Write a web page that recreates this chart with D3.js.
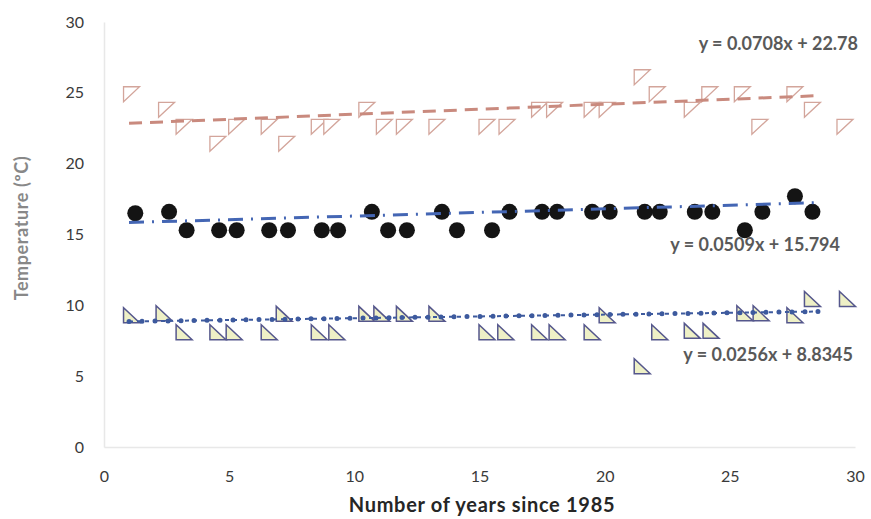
<!DOCTYPE html>
<html>
<head>
<meta charset="utf-8">
<script src="https://cdn.jsdelivr.net/npm/d3@7"></script>
<style>
  body { margin: 0; background: #ffffff; }
  #scatter { width: 871px; height: 519px; }
</style>
</head>
<body>
<div id="scatter"></div>
<script>
// Data
var hotYears = [1.1, 2.5, 3.2, 4.55, 5.3, 6.6, 7.3, 8.6, 9.1, 10.5, 11.2, 12.0, 13.3, 15.3, 16.1, 17.4, 18.0, 19.5, 20.1, 21.5, 22.1, 23.5, 24.2, 25.5, 26.2, 27.6, 28.3, 29.6];
var hotTemps = [24.9, 23.8, 22.6, 21.4, 22.6, 22.6, 21.4, 22.6, 22.6, 23.8, 22.6, 22.6, 22.6, 22.6, 22.6, 23.8, 23.8, 23.8, 23.8, 26.1, 24.9, 23.8, 24.9, 24.9, 22.6, 24.9, 23.8, 22.6];

var meanYears = [1.25, 2.6, 3.3, 4.6, 5.3, 6.6, 7.35, 8.7, 9.35, 10.7, 11.35, 12.1, 13.5, 14.1, 15.5, 16.2, 17.5, 18.1, 19.5, 20.2, 21.6, 22.2, 23.6, 24.3, 25.6, 26.3, 27.6, 28.3];
var meanTemps = [16.5, 16.6, 15.3, 15.3, 15.3, 15.3, 15.3, 15.3, 15.3, 16.6, 15.3, 15.3, 16.6, 15.3, 15.3, 16.6, 16.6, 16.6, 16.6, 16.6, 16.6, 16.6, 16.6, 16.6, 15.3, 16.6, 17.7, 16.6];

var coldYears = [1.1, 2.4, 3.2, 4.55, 5.2, 6.6, 7.2, 8.6, 9.3, 10.5, 11.1, 12.0, 13.3, 15.3, 16.05, 17.4, 18.1, 19.5, 20.1, 21.5, 22.2, 23.5, 24.25, 25.6, 26.25, 27.6, 28.3, 29.7];
var coldTemps = [9.3, 9.45, 8.1, 8.1, 8.1, 8.1, 9.4, 8.1, 8.1, 9.4, 9.4, 9.4, 9.4, 8.1, 8.1, 8.1, 8.1, 8.1, 9.3, 5.7, 8.1, 8.2, 8.2, 9.45, 9.45, 9.3, 10.45, 10.45];

// trendline equations shown on the chart: [slope, intercept]
var hotFit = [0.0708, 22.78];
var meanFit = [0.0509, 15.794];
var coldFit = [0.0256, 8.8345];
var fitRange = [1, 28.6];

var fitLabels = ['y = 0.0708x + 22.78', 'y = 0.0509x + 15.794', 'y = 0.0256x + 8.8345'];
var xTicks = [0, 5, 10, 15, 20, 25, 30];
var yTicks = [0, 5, 10, 15, 20, 25, 30];

var svgWidth = 871;
var svgHeight = 519;

var margin = { top: 22, right: 16, bottom: 72, left: 104 };
var width = svgWidth - margin.left - margin.right;
var height = svgHeight - margin.top - margin.bottom;

var svg = d3.select('#scatter')
    .append('svg')
    .attr('width', svgWidth)
    .attr('height', svgHeight)
    .style('font-family', 'Lato, "Open Sans", sans-serif');

var chartGroup = svg.append('g')
    .attr('transform', `translate(${margin.left}, ${margin.top})`);

var x = d3.scaleLinear().domain([0, 30]).range([0, 751]);
var y = d3.scaleLinear().domain([0, 30]).range([height, 0]);

// axes: faint lines, no tick marks
var bottomAxis = d3.axisBottom(x).tickValues(xTicks).tickSize(0).tickPadding(24);
var leftAxis = d3.axisLeft(y).tickValues(yTicks).tickSize(0).tickPadding(20);

var gx = chartGroup.append('g')
    .attr('transform', `translate(0, ${height})`)
    .call(bottomAxis);
var gy = chartGroup.append('g').call(leftAxis);

[gx, gy].forEach(function (g) {
    g.select('.domain').attr('stroke', '#e8e8e8').attr('stroke-width', 1.5);
    g.selectAll('text')
        .attr('fill', '#3a3a3a')
        .style('font-size', '16px')
        .style('font-family', 'Lato, sans-serif');
});

function toPoints(xs, ys) {
    return xs.map(function (d, i) { return { x: d, y: ys[i] }; });
}

// upper series: open triangles, corner at top left
var tw = 16, th = 15;
chartGroup.append('g').selectAll('path')
    .data(toPoints(hotYears, hotTemps))
    .enter()
    .append('path')
    .attr('transform', d => `translate(${x(d.x)}, ${y(d.y)})`)
    .attr('d', `M${-tw / 2},${-th / 2}L${tw / 2},${-th / 2}L${-tw / 2},${th / 2}Z`)
    .attr('fill', '#ffffff')
    .attr('stroke', '#d3a59b')
    .attr('stroke-width', 1.3);

// middle series: black dots
chartGroup.append('g').selectAll('circle')
    .data(toPoints(meanYears, meanTemps))
    .enter()
    .append('circle')
    .attr('cx', d => x(d.x))
    .attr('cy', d => y(d.y))
    .attr('r', 8)
    .attr('fill', '#141414');

// lower series: filled triangles, corner at bottom left
chartGroup.append('g').selectAll('path')
    .data(toPoints(coldYears, coldTemps))
    .enter()
    .append('path')
    .attr('transform', d => `translate(${x(d.x)}, ${y(d.y)})`)
    .attr('d', `M${-tw / 2},${-th / 2}L${-tw / 2},${th / 2}L${tw / 2},${th / 2}Z`)
    .attr('fill', '#eef0c6')
    .attr('stroke', '#55578c')
    .attr('stroke-width', 1.5);

// trendlines
var fitLine = d3.line().x(d => x(d[0])).y(d => y(d[1]));
function fitPoints(fit) {
    return fitRange.map(function (v) { return [v, fit[0] * v + fit[1]]; });
}

chartGroup.append('path')
    .datum(fitPoints(hotFit))
    .attr('d', fitLine)
    .attr('fill', 'none')
    .attr('stroke', '#c98a7e')
    .attr('stroke-width', 3)
    .attr('stroke-dasharray', '13 8');

chartGroup.append('path')
    .datum(fitPoints(meanFit))
    .attr('d', fitLine)
    .attr('fill', 'none')
    .attr('stroke', '#4466b4')
    .attr('stroke-width', 3)
    .attr('stroke-dasharray', '15 8 2 8');

chartGroup.append('path')
    .datum(fitPoints(coldFit))
    .attr('d', fitLine)
    .attr('fill', 'none')
    .attr('stroke', '#3d5a9e')
    .attr('stroke-width', 2)
    .attr('stroke-dasharray', '4 4');
chartGroup.append('path')
    .datum(fitPoints(coldFit))
    .attr('d', fitLine)
    .attr('fill', 'none')
    .attr('stroke', '#3d5a9e')
    .attr('stroke-width', 5)
    .attr('stroke-linecap', 'round')
    .attr('stroke-dasharray', '0 13');

// equation labels
var labelPos = [[858, 50], [840, 251], [853, 361]];
svg.selectAll('.fitLabel')
    .data(fitLabels)
    .enter()
    .append('text')
    .attr('class', 'fitLabel')
    .attr('x', (d, i) => labelPos[i][0])
    .attr('y', (d, i) => labelPos[i][1])
    .attr('text-anchor', 'end')
    .attr('fill', '#595959')
    .style('font-size', '18px')
    .style('font-weight', 'bold')
    .text(d => d);

// axis titles
svg.append('text')
    .attr('transform', 'translate(28, 228) rotate(-90)')
    .attr('text-anchor', 'middle')
    .attr('fill', '#888888')
    .style('font-size', '18px')
    .style('letter-spacing', '0.6px')
    .style('font-weight', 'bold')
    .text('Temperature (\u00BAC)');

svg.append('text')
    .attr('x', 482)
    .attr('y', 512)
    .attr('text-anchor', 'middle')
    .attr('fill', '#262626')
    .style('font-size', '20px')
    .style('letter-spacing', '0.7px')
    .style('font-weight', 'bold')
    .text('Number of years since 1985');
</script>
</body>
</html>
